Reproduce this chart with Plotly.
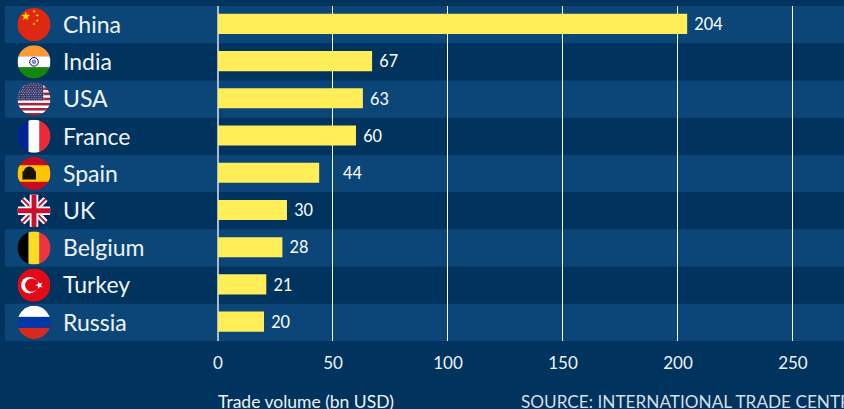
import base64
import math
import plotly.graph_objects as go

countries = ["China", "India", "USA", "France", "Spain", "UK", "Belgium", "Turkey", "Russia"]
values = [204, 67, 63, 60, 44, 30, 28, 21, 20]
x_ticks = [0, 50, 100, 150, 200, 250]
x_title = "Trade volume (bn USD)"
source = "SOURCE: INTERNATIONAL TRADE CENTRE"

BG = "#00335d"
BAND = "#0c4679"
BAR = "#ffee58"
W, H = 844, 409
L, T, B = 218, 6, 68
PW = W - L
FONT = "Lato"


def stripes_h(cols):
    n = len(cols)
    return "".join(f'<rect x="0" y="{i*100/n}" width="100" height="{100/n+0.3}" fill="{c}"/>' for i, c in enumerate(cols))


def stripes_v(cols):
    n = len(cols)
    return "".join(f'<rect y="0" x="{i*100/n}" height="100" width="{100/n+0.3}" fill="{c}"/>' for i, c in enumerate(cols))


def star(cx, cy, r, fill, rot=0):
    pts = []
    for k in range(10):
        a = math.radians(-90 + rot + 36 * k)
        rr = r if k % 2 == 0 else r * 0.4
        pts.append(f"{cx + rr*math.cos(a):.1f},{cy + rr*math.sin(a):.1f}")
    return f'<polygon points="{" ".join(pts)}" fill="{fill}"/>'


usa_stripes = "".join(
    f'<rect x="0" y="{i*100/13}" width="100" height="{100/13+0.2}" fill="{"#b22234" if i % 2 == 0 else "#ffffff"}"/>'
    for i in range(13)
)
usa_stars = "".join(
    f'<circle cx="{4 + c*7.4 + (3 if r % 2 else 0)}" cy="{4 + r*5.4}" r="1.3" fill="#ffffff"/>'
    for r in range(10) for c in range(11)
)

flags = {
    "China": '<rect width="100" height="100" fill="#de2910"/>'
             + star(25, 25, 14, "#ffde00") + star(50, 10, 5, "#ffde00", 20) + star(60, 22, 5, "#ffde00", 40)
             + star(60, 38, 5, "#ffde00") + star(50, 48, 5, "#ffde00", 20),
    "India": stripes_h(["#ff9933", "#ffffff", "#138808"])
             + '<circle cx="50" cy="50" r="13" fill="none" stroke="#000080" stroke-width="3"/>'
               '<circle cx="50" cy="50" r="7" fill="#8a8ac4"/>',
    "USA": usa_stripes + '<rect width="78" height="54" fill="#3c3b6e"/>' + usa_stars,
    "France": stripes_v(["#002395", "#ffffff", "#ed2939"]),
    "Spain": '<rect width="100" height="100" fill="#c60b1e"/><rect y="25" width="100" height="50" fill="#ffc400"/>'
             '<path d="M15 68 V45 Q20 43 22 36 Q36 22 50 36 Q52 43 56 45 V68 Z" fill="#1a1200"/>',
    "UK": '<rect width="100" height="100" fill="#012169"/>'
          '<path d="M0 0 L100 100 M100 0 L0 100" stroke="#ffffff" stroke-width="18"/>'
          '<path d="M0 0 L100 100 M100 0 L0 100" stroke="#c8102e" stroke-width="6"/>'
          '<path d="M50 0 V100 M0 50 H100" stroke="#ffffff" stroke-width="26"/>'
          '<path d="M50 0 V100 M0 50 H100" stroke="#c8102e" stroke-width="15"/>',
    "Belgium": stripes_v(["#000000", "#fdda24", "#ef3340"]),
    "Turkey": '<rect width="100" height="100" fill="#e30a17"/>'
              '<circle cx="36" cy="50" r="25" fill="#ffffff"/><circle cx="43" cy="50" r="20" fill="#e30a17"/>'
              + star(66, 50, 12, "#ffffff", -90),
    "Russia": stripes_h(["#ffffff", "#0039a6", "#d52b1e"]),
}


def flag_uri(inner):
    svg = (
        '<svg xmlns="http://www.w3.org/2000/svg" width="100" height="100" viewBox="0 0 100 100">'
        '<defs><clipPath id="c"><circle cx="50" cy="50" r="50"/></clipPath></defs>'
        f'<g clip-path="url(#c)">{inner}</g></svg>'
    )
    return "data:image/svg+xml;base64," + base64.b64encode(svg.encode()).decode()


fig = go.Figure(
    go.Bar(
        x=values,
        y=countries,
        orientation="h",
        width=0.54,
        offset=-0.29,
        marker=dict(color=BAR, line=dict(width=0)),
        text=[("     " if v == 44 else " ") + str(v) for v in values],
        textposition="outside",
        textfont=dict(family=FONT, size=17, color="#ffffff"),
        cliponaxis=False,
        hoverinfo="skip",
    )
)

shapes = []
images = []
annotations = []
px = lambda p: (p - L) / PW
for i, c in enumerate(countries):
    if i % 2 == 0:
        shapes.append(dict(type="rect", xref="paper", yref="y", x0=px(5), x1=1, y0=i - 0.5, y1=i + 0.5,
                           fillcolor=BAND, line_width=0, layer="below"))
    images.append(dict(source=flag_uri(flags[c]), xref="paper", yref="y", x=px(34), y=i, sizex=33 / PW, sizey=0.89,
                       xanchor="center", yanchor="middle", sizing="stretch", layer="above"))
    annotations.append(dict(text=c, xref="paper", yref="y", x=px(61), y=i - 0.02, xanchor="left", yanchor="middle",
                            showarrow=False, font=dict(family=FONT, size=23, color="#eef3f7")))

annotations.append(dict(text=x_title, xref="paper", yref="paper", x=px(216), y=-(401 - (H - B)) / (H - B - T),
                        xanchor="left", yanchor="middle", showarrow=False,
                        font=dict(family=FONT, size=17.5, color="#eef3f7")))
annotations.append(dict(text=source, xref="paper", yref="paper", x=px(519), y=-(401 - (H - B)) / (H - B - T),
                        xanchor="left", yanchor="middle", showarrow=False,
                        font=dict(family=FONT, size=17.2, color="#d5dfe8")))

fig.update_layout(
    width=W,
    height=H,
    autosize=False,
    margin=dict(l=L, r=0, t=T, b=B, pad=0),
    paper_bgcolor=BG,
    plot_bgcolor="rgba(0,0,0,0)",
    showlegend=False,
    shapes=shapes,
    images=images,
    annotations=annotations,
    font=dict(family=FONT, color="#eef3f7"),
    xaxis=dict(
        range=[0, 272.2],
        tickvals=x_ticks,
        showgrid=True,
        gridcolor="#ffffff",
        gridwidth=1,
        zeroline=True,
        zerolinecolor="#a9bacb",
        zerolinewidth=1.5,
        showline=False,
        ticks="outside",
        ticklen=7,
        tickcolor="rgba(0,0,0,0)",
        tickfont=dict(family=FONT, size=17, color="#eef3f7"),
    ),
    yaxis=dict(
        categoryorder="array",
        categoryarray=countries,
        autorange=False,
        range=[len(countries) - 0.5, -0.5],
        showticklabels=False,
        showgrid=False,
        zeroline=False,
        ticks="",
    ),
)

fig.write_html(
    "out.html",
    config=dict(displayModeBar=False),
    post_script="document.body.style.margin='0';document.documentElement.style.background='%s';" % BG,
)
